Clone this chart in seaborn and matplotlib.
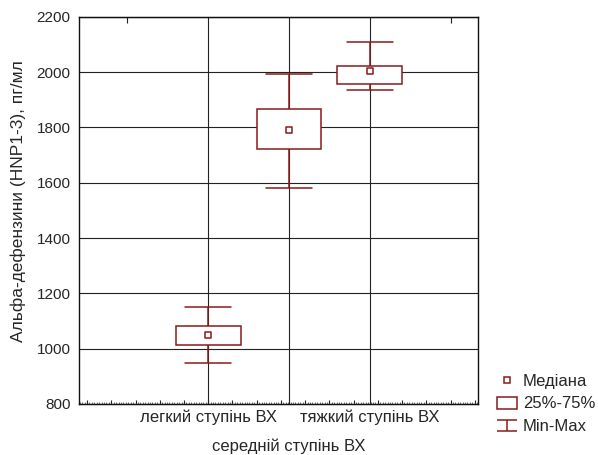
import numpy as np
import pandas as pd
import matplotlib
matplotlib.use('Agg')
import matplotlib.pyplot as plt
from matplotlib.ticker import MultipleLocator, FixedLocator, NullFormatter
from matplotlib.patches import Patch
from matplotlib.lines import Line2D
from matplotlib.legend_handler import HandlerErrorbar
import seaborn as sns

# summary stats per group
GROUPS = ['легкий ступінь ВХ', 'середній ступінь ВХ', 'тяжкий ступінь ВХ']
MINS = [948, 1580, 1935]
Q1S = [1014, 1723, 1957]
MEDIANS = [1049, 1790, 2004]
Q3S = [1083, 1866, 2022]
MAXS = [1150, 1993, 2110]

Y_TICKS = [800, 1000, 1200, 1400, 1600, 1800, 2000, 2200]
Y_LABEL = 'Альфа-дефензини (HNP1-3), пг/мл'
LEGEND_LABELS = ['Медіана', '25%-75%', 'Min-Max']

RED = '#8b1a1a'

sns.set_style('white')
plt.rcParams['font.family'] = ['Liberation Sans', 'DejaVu Sans']
plt.rcParams['font.size'] = 10

# five points per group -> quartiles land exactly on Q1/Q3, whis=(0,100) gives min/max
rows = []
for g, a, b, c, d, e in zip(GROUPS, MINS, Q1S, MEDIANS, Q3S, MAXS):
    for v in (a, b, c, d, e):
        rows.append({'group': g, 'value': v})
df = pd.DataFrame(rows)
med_df = pd.DataFrame({'pos': np.arange(len(GROUPS)), 'median': MEDIANS})

fig = plt.figure(figsize=(5.98, 4.55), dpi=100)
ax = fig.add_axes([0.1321, 0.1121, 0.6672, 0.8512])

sns.boxplot(data=df, x='group', y='value', order=GROUPS, whis=(0, 100),
            width=0.8, color='white', linecolor=RED, linewidth=1.1,
            capwidths=0.57, showfliers=False,
            medianprops={'visible': False}, ax=ax, zorder=3)

sns.scatterplot(data=med_df, x='pos', y='median', marker='s', s=24,
                color='white', edgecolor=RED, linewidth=1.1, ax=ax,
                zorder=5, legend=False)

ax.set_xlim(-1.6, 3.34)
ax.set_ylim(800, 2200)
ax.set_yticks(Y_TICKS)
ax.set_xticks(np.arange(len(GROUPS)))
ax.set_xticklabels(GROUPS)
ax.set_xlabel('')
ax.set_ylabel(Y_LABEL, fontsize=12.5)
ax.yaxis.set_label_coords(-0.132, 0.524)

ax.set_axisbelow(True)
ax.grid(True, which='major', color='#222222', linewidth=0.8)
ax.tick_params(axis='x', which='major', length=0, labelsize=12, pad=4)
ax.tick_params(axis='y', which='major', length=0, labelsize=11, pad=6)

# fine ticks along the bottom edge
ax.xaxis.set_minor_locator(MultipleLocator(0.03))
ax.tick_params(axis='x', which='minor', direction='in', length=1.5,
               width=0.5, color='#333333', bottom=True)

sec_b = ax.secondary_xaxis('bottom')
sec_b.xaxis.set_major_locator(MultipleLocator(0.3))
sec_b.xaxis.set_major_formatter(NullFormatter())
sec_b.tick_params(direction='in', length=3, width=0.8, color='#222222')

sec_t = ax.secondary_xaxis('top')
sec_t.xaxis.set_major_locator(FixedLocator([-1, 3]))
sec_t.xaxis.set_major_formatter(NullFormatter())
sec_t.tick_params(direction='in', length=4, width=0.8, color='#222222')

# middle category label sits on a second row
ax.xaxis.get_major_ticks()[1].set_pad(25)

for sp in ax.spines.values():
    sp.set_color('#111111')
    sp.set_linewidth(1.0)

# legend
eb = ax.errorbar([np.nan], [np.nan], yerr=[np.nan], fmt='none',
                 ecolor=RED, elinewidth=1.1, capsize=7, capthick=1.1)
handles = [
    Line2D([], [], marker='s', ls='none', mfc='white', mec=RED, mew=1.1, ms=5),
    Patch(facecolor='white', edgecolor=RED, linewidth=1.1),
    eb,
]
fig.legend(handles, LEGEND_LABELS, loc='lower left',
           bbox_to_anchor=(497 / 598, 21 / 455), frameon=False,
           fontsize=12, borderpad=0, borderaxespad=0,
           handlelength=1.2, handleheight=0.7, handletextpad=0.35,
           labelspacing=0.45,
           handler_map={type(eb): HandlerErrorbar(xerr_size=0.5, yerr_size=0.32)})

fig.savefig('out.png', dpi=100)
